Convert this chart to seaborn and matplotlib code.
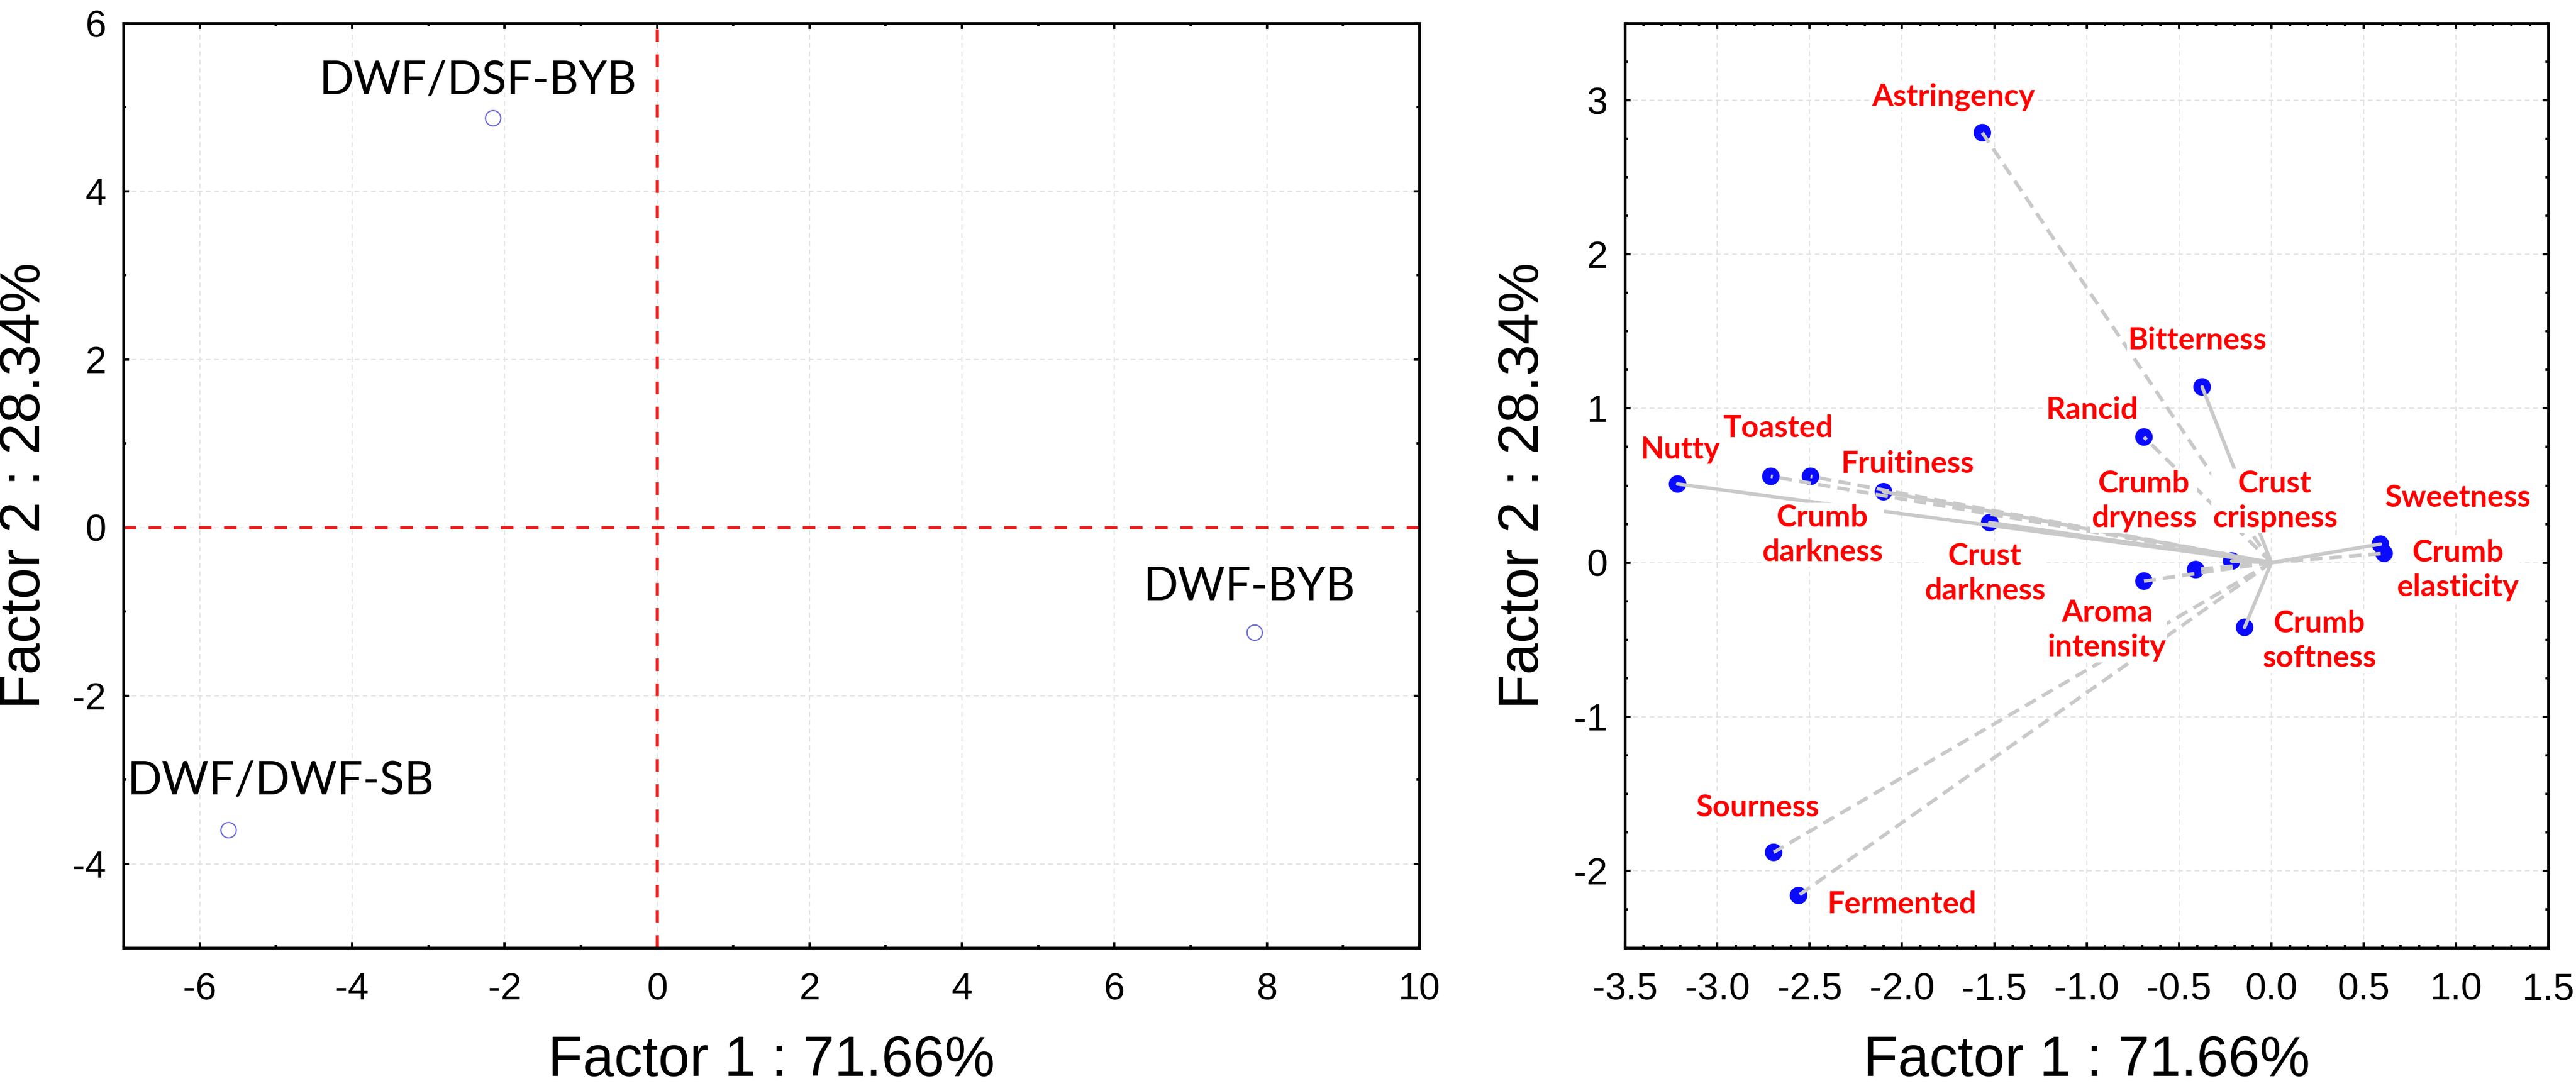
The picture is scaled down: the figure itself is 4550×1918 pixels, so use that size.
import numpy as np
import pandas as pd
import matplotlib.pyplot as plt
import seaborn as sns
from matplotlib.ticker import MultipleLocator, FormatStrFormatter

# --- data: sample scores (left panel)
samples = ['DWF/DSF-BYB', 'DWF-BYB', 'DWF/DWF-SB']
score_f1 = [-2.15, 7.84, -5.62]
score_f2 = [4.87, -1.25, -3.60]

# --- data: attribute coordinates (right panel)
attributes = ['Astringency', 'Bitterness', 'Rancid', 'Nutty', 'Toasted',
              'Crumb\ndarkness', 'Fruitiness', 'Crust\ndarkness', 'Aroma\nintensity',
              'Crumb\ndryness', 'Crust\ncrispness', 'Crumb\nsoftness', 'Sweetness',
              'Crumb\nelasticity', 'Sourness', 'Fermented']
load_f1 = [-1.565, -0.375, -0.69, -3.215, -2.71, -2.495, -2.10, -1.525, -0.69,
           -0.41, -0.215, -0.145, 0.59, 0.61, -2.695, -2.56]
load_f2 = [2.79, 1.14, 0.815, 0.51, 0.56, 0.56, 0.46, 0.26, -0.12,
           -0.045, 0.01, -0.42, 0.12, 0.06, -1.88, -2.16]

# styling / placement (not data)
dashed = {'Astringency', 'Rancid', 'Toasted', 'Crumb\ndarkness', 'Aroma\nintensity',
          'Crumb\ndryness', 'Crumb\nelasticity', 'Sourness', 'Fermented'}
sample_label_pos = {'DWF/DSF-BYB': (-2.35, 5.31), 'DWF-BYB': (7.77, -0.71),
                    'DWF/DWF-SB': (-4.94, -3.02)}
attr_label_pos = {'Astringency': (-1.72, 3.02), 'Bitterness': (-0.40, 1.44),
                  'Rancid': (-0.97, 0.99), 'Nutty': (-3.20, 0.73),
                  'Toasted': (-2.67, 0.87), 'Crumb\ndarkness': (-2.43, 0.18),
                  'Fruitiness': (-1.97, 0.64), 'Crust\ndarkness': (-1.55, -0.07),
                  'Aroma\nintensity': (-0.89, -0.44), 'Crumb\ndryness': (-0.69, 0.40),
                  'Crust\ncrispness': (0.02, 0.40), 'Crumb\nsoftness': (0.26, -0.51),
                  'Sweetness': (1.01, 0.42), 'Crumb\nelasticity': (1.01, -0.05),
                  'Sourness': (-2.78, -1.59), 'Fermented': (-2.00, -2.22)}

sns.set_theme(style='white')
plt.rcParams['font.family'] = ['Liberation Sans', 'DejaVu Sans']
plt.rcParams['axes.unicode_minus'] = False
plt.rcParams['text.color'] = 'black'
plt.rcParams['axes.labelcolor'] = 'black'
plt.rcParams['xtick.color'] = 'black'
plt.rcParams['ytick.color'] = 'black'

fig = plt.figure(figsize=(45.5, 19.18), dpi=100)
ax1 = fig.add_axes([0.0479, 0.1272, 0.5031, 0.8514])
ax2 = fig.add_axes([0.6308, 0.1272, 0.3585, 0.8514])

scores = pd.DataFrame({'sample': samples, 'f1': score_f1, 'f2': score_f2})
loads = pd.DataFrame({'attr': attributes, 'f1': load_f1, 'f2': load_f2})

# left panel
sns.scatterplot(data=scores, x='f1', y='f2', ax=ax1, s=380, facecolor='none',
                edgecolor='#6a6ad8', linewidth=1.6, zorder=3)
ax1.axhline(0, color='#ee1c1c', lw=4, dashes=(4, 4), zorder=2)
ax1.axvline(0, color='#ee1c1c', lw=4, dashes=(4, 4), zorder=2)
for s in samples:
    x, y = sample_label_pos[s]
    ax1.text(x, y, s, fontsize=58, family='Lato', ha='center', va='center', color='black')
ax1.set_xlim(-7, 10)
ax1.set_ylim(-5, 6)
ax1.xaxis.set_major_locator(MultipleLocator(2))
ax1.xaxis.set_minor_locator(MultipleLocator(1))
ax1.yaxis.set_major_locator(MultipleLocator(2))
ax1.yaxis.set_minor_locator(MultipleLocator(1))

# right panel
for a, x, y in zip(attributes, load_f1, load_f2):
    if a in dashed:
        ax2.plot([0, x], [0, y], color='#c9c9c9', lw=4.5, dashes=(3.5, 2), zorder=4)
    else:
        ax2.plot([0, x], [0, y], color='#c9c9c9', lw=4.5, zorder=4)
sns.scatterplot(data=loads, x='f1', y='f2', ax=ax2, s=500, color='#0a0aff',
                edgecolor='none', zorder=3)
for a in attributes:
    x, y = attr_label_pos[a]
    ax2.text(x, y, a, fontsize=39, family='Lato', fontweight='bold', color='#ff0000',
             ha='center', va='center', linespacing=1.3, zorder=5,
             bbox=dict(facecolor='white', edgecolor='none', pad=1))
ax2.set_xlim(-3.5, 1.5)
ax2.set_ylim(-2.5, 3.5)
ax2.xaxis.set_major_locator(MultipleLocator(0.5))
ax2.xaxis.set_minor_locator(MultipleLocator(0.1))
ax2.xaxis.set_major_formatter(FormatStrFormatter('%.1f'))
ax2.yaxis.set_major_locator(MultipleLocator(1))
ax2.yaxis.set_minor_locator(MultipleLocator(0.25))

for ax, ylx in ((ax1, -0.076), (ax2, -0.110)):
    ax.grid(True, which='major', color='#e4e4e4', lw=1.5, ls=(0, (4, 3)), zorder=0)
    for sp in ax.spines.values():
        sp.set_visible(True)
        sp.set_color('black')
        sp.set_linewidth(3.5)
    ax.tick_params(which='both', direction='in', top=True, right=True,
                   bottom=True, left=True, color='black', labelcolor='black', width=3)
    ax.tick_params(which='major', length=7.5, labelsize=48)
    ax.tick_params(which='minor', length=3.8)
    ax.tick_params(axis='x', which='major', pad=31)
    ax.tick_params(axis='y', which='major', pad=22)
    ax.set_xlabel('Factor 1 : 71.66%', fontsize=72, color='black')
    ax.set_ylabel('Factor 2 : 28.34%', fontsize=72, color='black')
    ax.xaxis.set_label_coords(0.5, -0.1225)
    ax.xaxis.label.set_va('center')
    ax.yaxis.set_label_coords(ylx, 0.5)
    ax.yaxis.label.set_va('center')

fig.savefig('out.png', dpi=100, facecolor='white')
